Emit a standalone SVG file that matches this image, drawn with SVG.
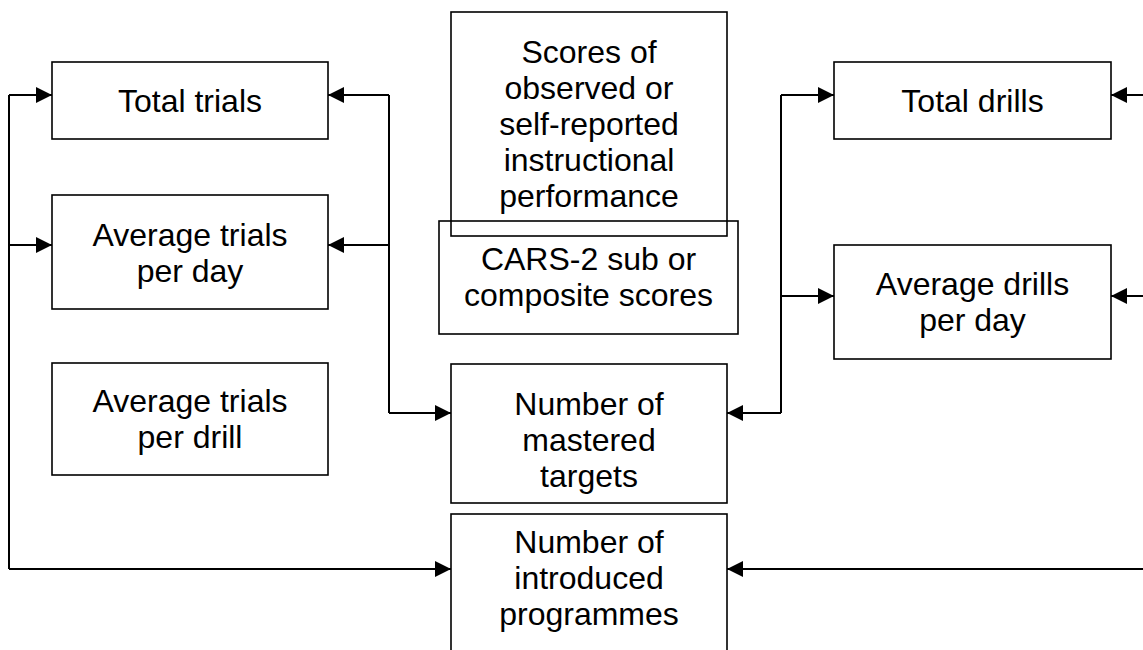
<svg xmlns="http://www.w3.org/2000/svg" width="1143" height="650" viewBox="0 0 1143 650">
  <style>
    .box { fill: none; stroke: #000; stroke-width: 1.6; }
    .lbl { font-family: "Liberation Sans", Arial, sans-serif; font-size: 32px; fill: #000; text-anchor: middle; }
    .wire { fill: none; stroke: #000; stroke-width: 2; }
  </style>
  <defs>
    <marker id="arrow" viewBox="0 0 16 16" refX="16" refY="8" markerWidth="16" markerHeight="16" markerUnits="userSpaceOnUse" orient="auto">
      <path d="M0,0 L16,8 L0,16 Z" fill="#000"/>
    </marker>
  </defs>
  <rect width="1143" height="650" fill="#fff"/>

  <!-- left column -->
  <g id="total-trials">
    <rect class="box" x="52" y="62" width="276" height="77"/>
    <text class="lbl" x="190" y="112">Total trials</text>
  </g>
  <g id="avg-trials-day">
    <rect class="box" x="52" y="195" width="276" height="114"/>
    <text class="lbl" x="190" y="246">Average trials</text>
    <text class="lbl" x="190" y="282">per day</text>
  </g>
  <g id="avg-trials-drill">
    <rect class="box" x="52" y="363" width="276" height="112"/>
    <text class="lbl" x="190" y="412">Average trials</text>
    <text class="lbl" x="190" y="448">per drill</text>
  </g>

  <!-- centre column -->
  <g id="scores-performance">
    <rect class="box" x="451" y="12" width="276" height="224"/>
    <text class="lbl" x="589" y="63">Scores of</text>
    <text class="lbl" x="589" y="99">observed or</text>
    <text class="lbl" x="589" y="135">self-reported</text>
    <text class="lbl" x="589" y="171">instructional</text>
    <text class="lbl" x="589" y="207">performance</text>
  </g>
  <g id="cars2">
    <rect class="box" x="439" y="221" width="299" height="113"/>
    <text class="lbl" x="588.5" y="270">CARS-2 sub or</text>
    <text class="lbl" x="588.5" y="306">composite scores</text>
  </g>
  <g id="mastered-targets">
    <rect class="box" x="451" y="364" width="276" height="139"/>
    <text class="lbl" x="589" y="415">Number of</text>
    <text class="lbl" x="589" y="451">mastered</text>
    <text class="lbl" x="589" y="487">targets</text>
  </g>
  <g id="introduced-programmes">
    <rect class="box" x="451" y="514" width="276" height="170"/>
    <text class="lbl" x="589" y="553">Number of</text>
    <text class="lbl" x="589" y="589">introduced</text>
    <text class="lbl" x="589" y="625">programmes</text>
  </g>

  <!-- right column -->
  <g id="total-drills">
    <rect class="box" x="834" y="62" width="277" height="77"/>
    <text class="lbl" x="972.5" y="112">Total drills</text>
  </g>
  <g id="avg-drills-day">
    <rect class="box" x="834" y="245" width="277" height="114"/>
    <text class="lbl" x="972.5" y="295">Average drills</text>
    <text class="lbl" x="972.5" y="331">per day</text>
  </g>

  <g id="connectors">
    <!-- outer left trunk -->
    <path class="wire" d="M9,95 V569"/>
    <path class="wire" d="M9,95 H52" marker-end="url(#arrow)"/>
    <path class="wire" d="M9,245 H52" marker-end="url(#arrow)"/>
    <path class="wire" d="M9,569 H451" marker-end="url(#arrow)"/>

    <!-- trials to mastered targets -->
    <path class="wire" d="M389,95 V413"/>
    <path class="wire" d="M389,95 H328" marker-end="url(#arrow)"/>
    <path class="wire" d="M389,245 H328" marker-end="url(#arrow)"/>
    <path class="wire" d="M389,413 H451" marker-end="url(#arrow)"/>

    <!-- drills to mastered targets -->
    <path class="wire" d="M781,95 V413"/>
    <path class="wire" d="M781,95 H834" marker-end="url(#arrow)"/>
    <path class="wire" d="M781,296 H834" marker-end="url(#arrow)"/>
    <path class="wire" d="M781,413 H727" marker-end="url(#arrow)"/>

    <!-- outer right feeds -->
    <path class="wire" d="M1145,95 H1111" marker-end="url(#arrow)"/>
    <path class="wire" d="M1145,296 H1111" marker-end="url(#arrow)"/>
    <path class="wire" d="M1145,569 H727" marker-end="url(#arrow)"/>
  </g>
</svg>
